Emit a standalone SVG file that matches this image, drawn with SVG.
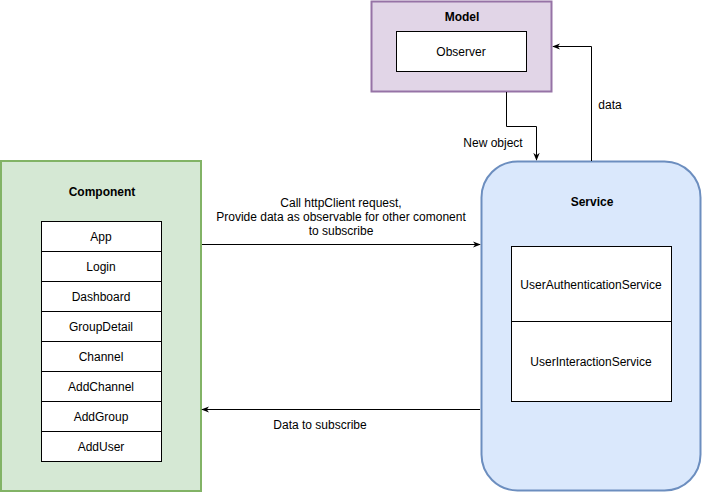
<svg xmlns="http://www.w3.org/2000/svg" width="702" height="492" viewBox="0 0 702 492">
<defs>
<style>
text{font-family:"Liberation Sans",Arial,Helvetica,sans-serif;font-size:12px;fill:#000;text-anchor:middle}
.b{font-weight:bold}
.w{fill:#fff;stroke:#000;stroke-width:1}
.c{fill:none;stroke:#000;stroke-width:1}
</style>
<marker id="ah" viewBox="0 0 10 10" refX="9" refY="5" markerWidth="8" markerHeight="8" markerUnits="userSpaceOnUse" orient="auto">
<path d="M0,1 L10,5 L0,9 L3,5 Z" fill="#000"/>
</marker>
</defs>
<rect width="702" height="492" fill="#fff"/>
<g id="model">
<rect x="371.5" y="1.5" width="180" height="90" fill="#e1d5e7" stroke="#9673a6" stroke-width="2"/>
<text x="462" y="21" class="b">Model</text>
<rect x="396.5" y="31.5" width="130" height="40" class="w"/>
<text x="461" y="56">Observer</text>
</g>
<g id="component">
<rect x="1" y="161" width="200" height="330" fill="#d5e8d4" stroke="#82b366" stroke-width="2"/>
<text x="102" y="196" class="b">Component</text>
<g>
<rect x="41.5" y="221.5" width="120" height="30" class="w"/><text x="101" y="241">App</text>
<rect x="41.5" y="251.5" width="120" height="30" class="w"/><text x="101" y="271">Login</text>
<rect x="41.5" y="281.5" width="120" height="30" class="w"/><text x="101" y="301">Dashboard</text>
<rect x="41.5" y="311.5" width="120" height="30" class="w"/><text x="101" y="331">GroupDetail</text>
<rect x="41.5" y="341.5" width="120" height="30" class="w"/><text x="101" y="361">Channel</text>
<rect x="41.5" y="371.5" width="120" height="30" class="w"/><text x="101" y="391">AddChannel</text>
<rect x="41.5" y="401.5" width="120" height="30" class="w"/><text x="101" y="421">AddGroup</text>
<rect x="41.5" y="431.5" width="120" height="30" class="w"/><text x="101" y="451">AddUser</text>
</g>
</g>
<g id="service">
<rect x="481.5" y="161.5" width="219" height="329" rx="36" ry="36" fill="#dae8fc" stroke="#6c8ebf" stroke-width="2"/>
<text x="592" y="206" class="b">Service</text>
<rect x="511.5" y="246.5" width="160" height="75" class="w"/>
<text x="591" y="289">UserAuthenticationService</text>
<rect x="511.5" y="321.5" width="160" height="80" class="w"/>
<text x="591" y="366">UserInteractionService</text>
</g>
<g id="connectors">
<path d="M202,244.5 H480" class="c" marker-end="url(#ah)"/>
<text x="341" y="207">Call httpClient request,</text>
<text x="341" y="221">Provide data as observable for other comonent</text>
<text x="341" y="235">to subscribe</text>
<path d="M480,409.5 H202" class="c" marker-end="url(#ah)"/>
<text x="320" y="429">Data to subscribe</text>
<path d="M506.5,92 V126.5 H536.5 V160" class="c" marker-end="url(#ah)"/>
<text x="493" y="147">New object</text>
<path d="M591.5,161 V46.5 H553" class="c" marker-end="url(#ah)"/>
<text x="610" y="109">data</text>
</g>
</svg>
